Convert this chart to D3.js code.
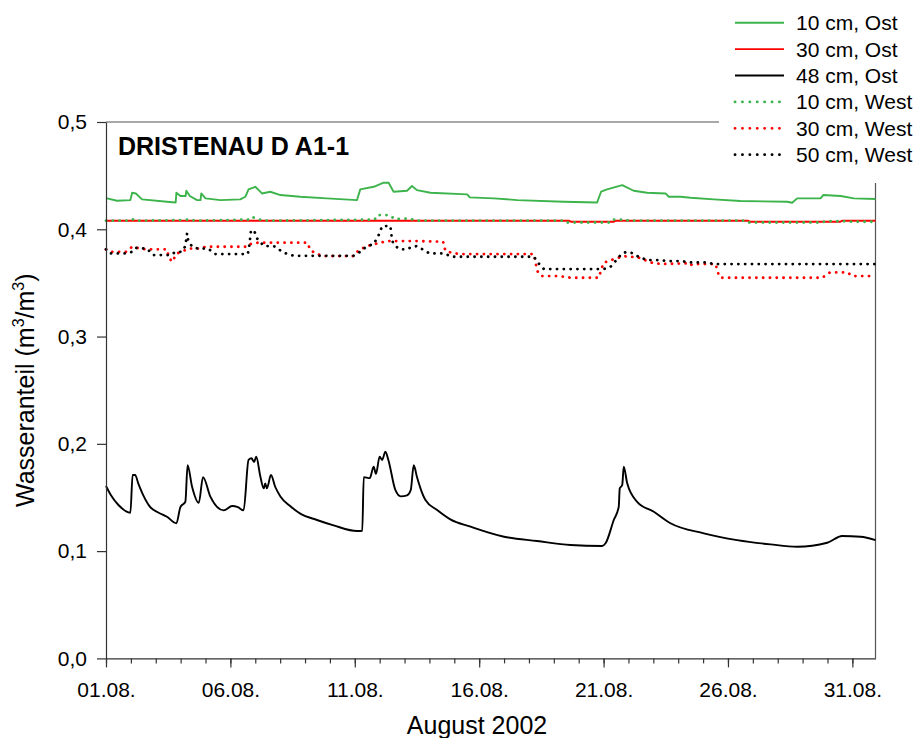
<!DOCTYPE html>
<html>
<head>
<meta charset="utf-8">
<script src="https://cdn.jsdelivr.net/npm/d3@7"></script>
<style>
  body { margin: 0; background: #fff; }
  text { font-family: "Liberation Sans", Arial, sans-serif; }
</style>
</head>
<body>
<script>
// Tage seit 01.08.2002 00:00 und Wasseranteil (m3/m3)
const gruen10Ost = [[0,0.429],[0.44,0.4266],[0.98,0.4272],[1.05,0.434],[1.2,0.4334],[1.45,0.4279],[2.45,0.4257],[2.8,0.425],[2.83,0.434],[2.99,0.431],[3.2,0.431],[3.23,0.4359],[3.37,0.431],[3.66,0.4272],[3.8,0.4272],[3.83,0.4334],[4.0,0.4288],[4.6,0.4272],[5.4,0.4279],[5.6,0.4303],[5.73,0.4372],[6.0,0.4396],[6.14,0.4365],[6.27,0.4334],[6.6,0.435],[7.01,0.4319],[7.81,0.4303],[8.88,0.4288],[10.09,0.4272],[10.22,0.4372],[10.76,0.4396],[11.16,0.4434],[11.36,0.4434],[11.56,0.435],[12.1,0.4359],[12.3,0.4403],[12.5,0.4365],[13.04,0.434],[14.52,0.4325],[14.62,0.4297],[15.59,0.4288],[16.53,0.4272],[18.4,0.4257],[19.74,0.425],[19.9,0.435],[20.14,0.4372],[20.75,0.4412],[21.21,0.4359],[21.75,0.434],[22.49,0.4334],[22.62,0.4303],[23.09,0.4303],[23.5,0.4294],[24.43,0.4279],[25.5,0.4263],[27.38,0.4257],[27.58,0.4247],[27.78,0.4288],[28.72,0.4288],[28.83,0.4319],[29.53,0.431],[30.06,0.4288],[30.93,0.4282]];
const rot30Ost = [[0,0.408],[18.6,0.408],[18.7,0.407],[20.4,0.407],[20.5,0.408],[25.8,0.408],[25.9,0.407],[29.5,0.407],[29.6,0.408],[30.93,0.408]];
const schwarz48Ost = [[0,0.1607],[0.2,0.152],[0.5,0.143],[0.98,0.1358],[1.07,0.171],[1.17,0.171],[1.3,0.163],[1.5,0.152],[1.78,0.141],[2.1,0.136],[2.45,0.132],[2.83,0.126],[2.99,0.141],[3.19,0.146],[3.28,0.18],[3.46,0.16],[3.73,0.145],[3.9,0.169],[4.19,0.151],[4.73,0.138],[5.07,0.142],[5.3,0.141],[5.53,0.138],[5.73,0.185],[5.85,0.1865],[5.95,0.183],[6.04,0.188],[6.2,0.17],[6.34,0.1585],[6.4,0.163],[6.47,0.1585],[6.63,0.171],[6.8,0.16],[7.01,0.151],[7.4,0.142],[7.81,0.135],[8.48,0.129],[9.15,0.124],[10.09,0.1187],[10.3,0.119],[10.36,0.169],[10.6,0.168],[10.76,0.1787],[10.85,0.172],[11.0,0.188],[11.1,0.185],[11.23,0.1926],[11.35,0.185],[11.63,0.157],[11.85,0.151],[12.1,0.152],[12.25,0.157],[12.37,0.18],[12.5,0.169],[12.64,0.1585],[12.84,0.1476],[13.31,0.1383],[13.84,0.1296],[14.65,0.1228],[16.0,0.1134],[17.33,0.1094],[18.67,0.1057],[19.94,0.1048],[20.08,0.1073],[20.41,0.129],[20.61,0.1414],[20.65,0.1585],[20.75,0.1616],[20.81,0.1787],[20.95,0.1632],[21.35,0.146],[22.02,0.1367],[22.69,0.126],[24.03,0.1166],[25.37,0.1103],[26.71,0.1063],[27.78,0.1041],[28.99,0.1078],[29.59,0.1141],[30.33,0.1134],[30.93,0.1103]];
const gruen10West = [[0,0.408],[1.0,0.408],[1.1,0.4095],[1.3,0.408],[2.85,0.4085],[3.4,0.409],[3.6,0.408],[5.7,0.409],[5.85,0.4117],[6.1,0.4095],[6.4,0.408],[10.8,0.409],[10.9,0.4132],[11.4,0.4132],[11.6,0.4095],[12.2,0.41],[12.5,0.408],[18.4,0.408],[18.5,0.4063],[20.3,0.4063],[20.4,0.409],[20.9,0.409],[21.0,0.408],[25.7,0.408],[25.8,0.4063],[28.8,0.4063],[28.9,0.4075],[29.8,0.4075],[30.0,0.407],[30.93,0.407]];
const rot30West = [[0,0.3813],[0.2,0.379],[0.8,0.379],[1.05,0.3837],[1.38,0.382],[1.65,0.3813],[2.45,0.3813],[2.52,0.3744],[2.65,0.3697],[2.85,0.3775],[3.05,0.379],[3.3,0.382],[3.8,0.382],[3.99,0.3837],[5.7,0.3837],[5.8,0.3862],[6.1,0.3875],[8.1,0.3875],[8.21,0.3806],[8.48,0.3769],[8.75,0.375],[9.95,0.375],[10.16,0.3806],[10.49,0.3843],[10.9,0.3868],[11.3,0.389],[12.5,0.389],[13.55,0.3884],[13.64,0.38],[13.91,0.378],[14.25,0.3769],[17.2,0.3769],[17.33,0.3613],[17.5,0.3564],[18.2,0.3564],[18.7,0.3548],[19.8,0.3548],[19.88,0.3604],[20.0,0.3688],[20.27,0.371],[20.81,0.375],[21.4,0.3737],[21.95,0.3688],[22.3,0.3676],[23.3,0.3682],[23.43,0.366],[23.6,0.3676],[24.5,0.3676],[24.63,0.3573],[24.7,0.3548],[28.8,0.3548],[28.93,0.3573],[29.1,0.3598],[29.8,0.3598],[30.0,0.3564],[30.93,0.3564]];
const schwarz50West = [[0,0.3813],[0.15,0.3775],[0.8,0.3775],[1.05,0.379],[1.2,0.3826],[1.65,0.382],[1.9,0.376],[2.6,0.376],[2.8,0.379],[3.05,0.379],[3.19,0.3843],[3.26,0.3962],[3.3,0.39],[3.46,0.3837],[3.7,0.382],[4.1,0.382],[4.4,0.3769],[5.7,0.3769],[5.77,0.3868],[5.83,0.3993],[5.97,0.3978],[6.07,0.3915],[6.35,0.3843],[6.75,0.3843],[7.15,0.3781],[7.55,0.3753],[9.95,0.3753],[10.22,0.379],[10.49,0.3843],[10.76,0.3862],[10.96,0.3946],[11.1,0.403],[11.43,0.403],[11.5,0.3893],[11.63,0.3843],[11.83,0.3813],[12.1,0.3813],[12.3,0.3837],[12.5,0.3843],[12.77,0.3806],[13.0,0.3775],[13.6,0.3775],[13.9,0.3744],[17.2,0.3744],[17.39,0.3682],[17.6,0.3629],[20.0,0.3629],[20.27,0.3648],[20.54,0.372],[20.74,0.3775],[20.95,0.379],[21.2,0.3775],[21.4,0.3744],[21.75,0.3713],[22.3,0.3713],[22.5,0.3704],[23.1,0.3704],[23.5,0.3691],[24.2,0.3691],[24.4,0.3676],[30.93,0.3676]];

const legendLabels = ["10 cm, Ost", "30 cm, Ost", "48 cm, Ost", "10 cm, West", "30 cm, West", "50 cm, West"];
const yTicks = [0, 0.1, 0.2, 0.3, 0.4, 0.5];
const lastDay = 30.93;

const width = 917, height = 738;
const margin = {top: 122, right: 41.5, bottom: 79.6, left: 106};

const start = Date.UTC(2002, 7, 1);
const toDate = d => new Date(start + d * 864e5);

const series = [
  {data: gruen10Ost, color: "#3cb44b", dotted: false, smooth: false},
  {data: rot30Ost, color: "#ff0000", dotted: false, smooth: false},
  {data: schwarz48Ost, color: "#000000", dotted: false, smooth: true},
  {data: gruen10West, color: "#3cb44b", dotted: true, smooth: false},
  {data: rot30West, color: "#ff0000", dotted: true, smooth: false},
  {data: schwarz50West, color: "#000000", dotted: true, smooth: false}
];

const svg = d3.select("body").append("svg")
  .attr("width", width).attr("height", height);

const x = d3.scaleUtc()
  .domain([toDate(0), toDate(lastDay)])
  .range([margin.left, width - margin.right]);

const y = d3.scaleLinear()
  .domain([0, 0.5])
  .range([height - margin.bottom, margin.top]);

const line = d3.line()
  .x(d => x(toDate(d[0])))
  .y(d => y(d[1]));
const smoothLine = d3.line()
  .x(d => x(toDate(d[0])))
  .y(d => y(d[1]))
  .curve(d3.curveMonotoneX);

// frame top + right
svg.append("path")
  .attr("d", `M${x.range()[0]},${y(0.5)}H${x.range()[1]}V${y(0)}`)
  .attr("fill", "none").attr("stroke", "#555").attr("stroke-width", 1.2);

// solid series first, dotted on top
const order = [0, 1, 2, 4, 5, 3];
svg.append("g").selectAll("path")
  .data(order.map(i => series[i]))
  .join("path")
    .attr("d", s => s.smooth ? smoothLine(s.data) : line(s.data))
    .attr("fill", "none")
    .attr("stroke", s => s.color)
    .attr("stroke-width", s => s.dotted ? 2.8 : 1.9)
    .attr("stroke-linecap", s => s.dotted ? "round" : "butt")
    .attr("stroke-linejoin", "round")
    .attr("stroke-dasharray", s => s.dotted ? "0.1,6.7" : null);

// x axis: minor day ticks + major every 5 days
const allDays = d3.utcDay.range(toDate(0), toDate(lastDay + 0.01));
const majorDays = allDays.filter(d => (d.getUTCDate() - 1) % 5 === 0);

svg.append("g")
  .attr("transform", `translate(0,${y(0)})`)
  .call(d3.axisBottom(x).tickValues(allDays).tickSize(5).tickSizeOuter(0).tickFormat(""))
  .call(g => g.selectAll("line,path").attr("stroke", "#333").attr("stroke-width", 1.2));

svg.append("g")
  .attr("transform", `translate(0,${y(0)})`)
  .call(d3.axisBottom(x).tickValues(majorDays).tickSize(9).tickSizeOuter(0)
    .tickPadding(15).tickFormat(d3.utcFormat("%d.%m.")))
  .call(g => g.select(".domain").remove())
  .call(g => g.selectAll("line").attr("stroke", "#333").attr("stroke-width", 1.2))
  .call(g => g.selectAll("text").style("font-size", "21px").attr("fill", "#000")
    .style("font-family", "'Liberation Sans', Arial, sans-serif"));

// y axis
svg.append("g")
  .attr("transform", `translate(${margin.left},0)`)
  .call(d3.axisLeft(y).tickValues(yTicks).tickSize(9).tickSizeOuter(0).tickPadding(10)
    .tickFormat(d => d3.format(".1f")(d).replace(".", ",")))
  .call(g => g.selectAll("line,path").attr("stroke", "#333").attr("stroke-width", 1.2))
  .call(g => g.selectAll("text").style("font-size", "21px").attr("fill", "#000")
    .style("font-family", "'Liberation Sans', Arial, sans-serif"));

// axis titles
svg.append("text")
  .attr("x", 477).attr("y", 734)
  .attr("text-anchor", "middle")
  .style("font-size", "25px")
  .text("August 2002");

const yt = svg.append("text")
  .attr("transform", `translate(34,${(y(0) + y(0.5)) / 2}) rotate(-90)`)
  .attr("text-anchor", "middle")
  .style("font-size", "25px");
yt.append("tspan").text("Wasseranteil (m");
yt.append("tspan").attr("dy", -10).style("font-size", "16px").text("3");
yt.append("tspan").attr("dy", 10).text("/m");
yt.append("tspan").attr("dy", -10).style("font-size", "16px").text("3");
yt.append("tspan").attr("dy", 10).text(")");

// title
svg.append("text")
  .attr("x", 118).attr("y", 155)
  .style("font-size", "25px").style("font-weight", "bold")
  .text("DRISTENAU D A1-1");

// legend
const lg = svg.append("g");
lg.append("rect")
  .attr("x", 719).attr("y", 0).attr("width", width - 719).attr("height", 183)
  .attr("fill", "#fff");
const rows = lg.selectAll("g.row")
  .data(series.map((s, i) => ({...s, label: legendLabels[i]})))
  .join("g")
    .attr("class", "row")
    .attr("transform", (d, i) => `translate(0,${22.7 + i * 26.4})`);
rows.append("line")
  .attr("x1", 735).attr("x2", 784)
  .attr("stroke", d => d.color)
  .attr("stroke-width", d => d.dotted ? 2.8 : 1.9)
  .attr("stroke-linecap", d => d.dotted ? "round" : "butt")
  .attr("stroke-dasharray", d => d.dotted ? "0.1,7.3" : null);
rows.append("text")
  .attr("x", 796).attr("dy", "0.36em")
  .style("font-size", "21px")
  .text(d => d.label);
</script>
</body>
</html>
